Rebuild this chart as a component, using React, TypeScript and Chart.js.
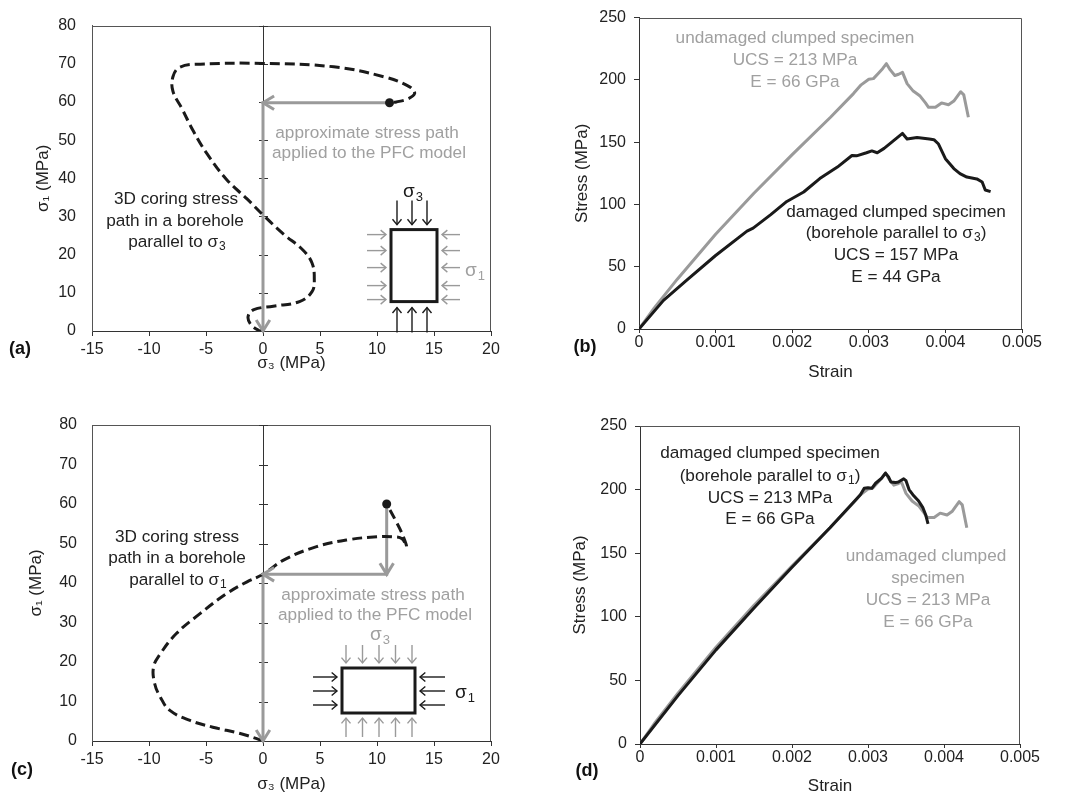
import React, { useEffect, useRef } from 'react';
import { Chart, registerables } from 'chart.js';

Chart.register(...registerables);

const FONT = 'Arial, "Liberation Sans", Helvetica, sans-serif';
const BLACK = '#1a1a1a';
const GRAY = '#9a9a9a';
const TEXT_GRAY = '#a0a0a0';
const TEXT = '#222222';
const AXIS = '#333333';
const BOX = '#555555';

// ---------- Panel (a): 3D coring stress path, borehole parallel to sigma3 ----------
const coringA_s3 = [0, -0.4, -1.1, -1.3, -0.8, 0.9, 3.2, 4.3, 4.5, 4.3, 3.5, 1.8, 0, -1.4, -3.2, -4.9, -6.1, -7.1, -7.9, -7.9, -7.3, -5.5, 0, 6.2, 10.6, 12.9, 13.3, 12.7, 11.7, 11.1];
const coringA_s1 = [0, 0.2, 1.8, 3.9, 5.6, 6.5, 7.7, 10.3, 13.6, 17.8, 21.2, 25.4, 30.4, 34.6, 39.7, 46.4, 52.3, 58.2, 62.8, 66.6, 69.1, 69.9, 70.1, 69.2, 66.6, 63.9, 62.2, 60.8, 60.0, 59.8];
const pfcA_s3 = [11.1, 0, 0];
const pfcA_s1 = [59.8, 59.8, 0];

// ---------- Panel (c): 3D coring stress path, borehole parallel to sigma1 ----------
const coringC_s3 = [0, -0.55, -2, -4.4, -6.4, -8.2, -9.0, -9.5, -9.6, -9.0, -7.6, -5.5, -3.2, -1.4, 0, 1.8, 4.7, 7.6, 10, 11.4, 12.2, 12.6, 12.2, 11.6, 10.85];
const coringC_s1 = [0, 0.6, 1.9, 3.5, 5.2, 7.8, 11.1, 14.5, 18.75, 22.1, 27.2, 32.3, 37.3, 40.3, 42.2, 45.8, 49.2, 51, 51.7, 51.7, 51.2, 49.2, 52.5, 56, 60];
const pfcC_s3 = [10.85, 10.85, 0, 0];
const pfcC_s1 = [60, 42.2, 42.2, 0];

// ---------- Panels (b), (d): stress-strain curves ----------
const undamagedStrain = [0, 0.0002, 0.0005, 0.001, 0.0015, 0.002, 0.0025, 0.0028, 0.0029, 0.003, 0.00306, 0.00312, 0.00318, 0.00323, 0.00328, 0.00334, 0.00339, 0.00344, 0.0035, 0.00358, 0.00367, 0.00374, 0.00378, 0.00387, 0.00395, 0.00404, 0.00411, 0.0042, 0.00424, 0.0043];
const undamagedStress = [0, 17, 40, 76, 109, 140, 170, 189, 196, 200.5, 201, 205, 209, 213, 208, 203.5, 204.5, 206, 197, 191, 187, 181.5, 178, 178, 181.5, 180, 183, 190.5, 188, 170];

const damagedS3Strain = [0, 0.00032, 0.00062, 0.001, 0.00141, 0.00149, 0.00172, 0.00193, 0.00215, 0.00236, 0.00259, 0.00278, 0.00284, 0.00297, 0.00304, 0.00311, 0.0032, 0.00332, 0.00344, 0.0035, 0.00363, 0.00379, 0.00385, 0.00391, 0.004, 0.00411, 0.00419, 0.00428, 0.00441, 0.00448, 0.00452, 0.00459];
const damagedS3Stress = [0, 23, 39, 59, 78.6, 81, 91.8, 102.4, 110, 120.8, 130, 139.3, 139, 141.5, 143, 141.5, 145, 151, 157, 152.5, 153.8, 152.5, 152, 148.5, 136.7, 128.8, 124.8, 122, 120.5, 118, 111.6, 110.3];

const damagedS1Strain = [0, 0.0005, 0.001, 0.0015, 0.002, 0.0025, 0.0029, 0.00295, 0.003, 0.00305, 0.0031, 0.00318, 0.00323, 0.00327, 0.0033, 0.00336, 0.0034, 0.00347, 0.0035, 0.00354, 0.00359, 0.00366, 0.00372, 0.00376, 0.00379];
const damagedS1Stress = [0, 38, 74, 107, 139, 170, 196, 201, 201.5, 201, 205, 209, 213, 210, 206, 205.5, 206, 208.5, 207, 200, 196, 191.5, 186, 180, 173];

// ---------- Ticks ----------
const sigma3Ticks = [-15, -10, -5, 0, 5, 10, 15, 20];
const sigma1Ticks = [0, 10, 20, 30, 40, 50, 60, 70, 80];
const strainTicks = [0, 0.001, 0.002, 0.003, 0.004, 0.005];
const strainTickLabels = ['0', '0.001', '0.002', '0.003', '0.004', '0.005'];
const stressTicks = [0, 50, 100, 150, 200, 250];

const zip = (xs: number[], ys: number[]) => xs.map((x, i) => ({ x, y: ys[i] }));

type Seg = string | { sub: string };
type Label = { x: number; y: number; segs: Seg[]; color: string; size?: number; bold?: boolean };

function drawRich(ctx: CanvasRenderingContext2D, l: Label) {
  const size = l.size ?? 17.2;
  const main = `${l.bold ? 'bold ' : ''}${size}px ${FONT}`;
  const sub = `${Math.round(size * 0.7)}px ${FONT}`;
  let total = 0;
  for (const s of l.segs) {
    ctx.font = typeof s === 'string' ? main : sub;
    total += ctx.measureText(typeof s === 'string' ? s : s.sub).width + (typeof s === 'string' ? 0 : 1);
  }
  let x = l.x - total / 2;
  ctx.fillStyle = l.color;
  ctx.textAlign = 'left';
  ctx.textBaseline = 'middle';
  for (const s of l.segs) {
    if (typeof s === 'string') {
      ctx.font = main;
      ctx.fillText(s, x, l.y);
      x += ctx.measureText(s).width;
    } else {
      ctx.font = sub;
      ctx.fillText(s.sub, x + 1, l.y + size * 0.3);
      x += ctx.measureText(s.sub).width + 1;
    }
  }
}

function chevron(ctx: CanvasRenderingContext2D, x: number, y: number, a: number, len: number, spread: number) {
  ctx.beginPath();
  ctx.moveTo(x - len * Math.cos(a - spread), y - len * Math.sin(a - spread));
  ctx.lineTo(x, y);
  ctx.lineTo(x - len * Math.cos(a + spread), y - len * Math.sin(a + spread));
  ctx.stroke();
}

function arrow(ctx: CanvasRenderingContext2D, x1: number, y1: number, x2: number, y2: number, color: string) {
  const a = Math.atan2(y2 - y1, x2 - x1);
  ctx.strokeStyle = color;
  ctx.lineWidth = 1.4;
  ctx.lineCap = 'butt';
  ctx.lineJoin = 'miter';
  ctx.beginPath();
  ctx.moveTo(x1, y1);
  ctx.lineTo(x2, y2);
  ctx.stroke();
  chevron(ctx, x2, y2, a, 7, 0.7);
}

type Area = { left: number; top: number; right: number; bottom: number };

function insetA(ctx: CanvasRenderingContext2D, ca: Area) {
  const L = ca.left + 299, T = ca.top + 204, W = 46, H = 72;
  for (const dx of [6, 21, 36]) {
    arrow(ctx, L + dx, T - 29, L + dx, T - 5, BLACK);
    arrow(ctx, L + dx, T + H + 31, L + dx, T + H + 6, BLACK);
  }
  for (const dy of [5, 21, 38, 56, 70]) {
    arrow(ctx, L - 24, T + dy, L - 5, T + dy, GRAY);
    arrow(ctx, L + W + 23, T + dy, L + W + 5, T + dy, GRAY);
  }
  ctx.strokeStyle = BLACK;
  ctx.lineWidth = 3;
  ctx.strokeRect(L, T, W, H);
  drawRich(ctx, { x: L + 22, y: T - 38, segs: ['σ', { sub: '3' }], color: BLACK, size: 19 });
  drawRich(ctx, { x: L + W + 38, y: T + 41, segs: ['σ', { sub: '1' }], color: TEXT_GRAY, size: 19 });
}

function insetC(ctx: CanvasRenderingContext2D, ca: Area) {
  const L = ca.left + 250, T = ca.top + 243, W = 73, H = 45;
  for (const dx of [4, 20.5, 37, 53.5, 70]) {
    arrow(ctx, L + dx, T - 23, L + dx, T - 5, GRAY);
    arrow(ctx, L + dx, T + H + 24, L + dx, T + H + 5, GRAY);
  }
  for (const dy of [9, 23, 37]) {
    arrow(ctx, L - 29, T + dy, L - 5, T + dy, BLACK);
    arrow(ctx, L + W + 30, T + dy, L + W + 5, T + dy, BLACK);
  }
  ctx.strokeStyle = BLACK;
  ctx.lineWidth = 3;
  ctx.strokeRect(L, T, W, H);
  drawRich(ctx, { x: L + 38, y: T - 33, segs: ['σ', { sub: '3' }], color: TEXT_GRAY, size: 19 });
  drawRich(ctx, { x: L + W + 50, y: T + 25, segs: ['σ', { sub: '1' }], color: BLACK, size: 19 });
}

interface Decor {
  centerAxis: boolean;
  path?: { xs: number[]; ys: number[] };
  inset?: (ctx: CanvasRenderingContext2D, ca: Area) => void;
  labels: Label[];
}

function makeDecor(d: Decor) {
  return {
    id: 'decor',
    beforeDatasetsDraw(chart: any) {
      const { ctx, chartArea: ca, scales } = chart;
      ctx.save();
      ctx.strokeStyle = BOX;
      ctx.lineWidth = 1;
      ctx.beginPath();
      const t = Math.round(ca.top) + 0.5;
      const r = Math.round(ca.right) - 0.5;
      ctx.moveTo(ca.left, t);
      ctx.lineTo(r, t);
      ctx.lineTo(r, ca.bottom);
      ctx.stroke();
      if (d.centerAxis) {
        const x0 = Math.round(scales.x.getPixelForValue(0)) + 0.5;
        ctx.strokeStyle = AXIS;
        ctx.beginPath();
        ctx.moveTo(x0, ca.top);
        ctx.lineTo(x0, ca.bottom);
        for (const v of sigma1Ticks) {
          const y = Math.round(scales.y.getPixelForValue(v)) + 0.5;
          ctx.moveTo(x0 - 4.5, y);
          ctx.lineTo(x0 + 4.5, y);
        }
        ctx.stroke();
      }
      ctx.restore();
    },
    afterDatasetsDraw(chart: any) {
      const { ctx, chartArea: ca, scales } = chart;
      ctx.save();
      if (d.path) {
        const { xs, ys } = d.path;
        ctx.strokeStyle = GRAY;
        ctx.lineWidth = 3;
        ctx.lineJoin = 'miter';
        ctx.lineCap = 'butt';
        for (let i = 1; i < xs.length; i++) {
          const px = scales.x.getPixelForValue(xs[i]);
          const py = scales.y.getPixelForValue(ys[i]);
          const qx = scales.x.getPixelForValue(xs[i - 1]);
          const qy = scales.y.getPixelForValue(ys[i - 1]);
          chevron(ctx, px, py, Math.atan2(py - qy, px - qx), 13, 0.55);
        }
      }
      if (d.inset) d.inset(ctx, ca);
      for (const l of d.labels) drawRich(ctx, l);
      ctx.restore();
    },
  };
}

const tickFont = { family: FONT, size: 16 };
const titleFont = { family: FONT, size: 17 };

interface PathParams {
  coringX: number[]; coringY: number[]; pfcX: number[]; pfcY: number[];
  top: number; right: number; xHeight: number; xTickPad: number; xTitlePad: number;
  yWidth: number; yTickPad: number; yTitlePad: number;
  labels: Label[]; inset: (ctx: CanvasRenderingContext2D, ca: Area) => void;
}

function stressPathConfig(p: PathParams): any {
  return {
    type: 'scatter',
    data: {
      datasets: [
        {
          data: [{ x: p.pfcX[0], y: p.pfcY[0] }], showLine: false, pointRadius: 4.5,
          pointBackgroundColor: BLACK, pointBorderColor: BLACK, pointBorderWidth: 0, order: 0,
        },
        {
          data: zip(p.coringX, p.coringY), showLine: true, borderColor: BLACK, borderWidth: 3,
          borderDash: [10, 5], tension: 0.4, pointRadius: 0, order: 1,
        },
        {
          data: zip(p.pfcX, p.pfcY), showLine: true, borderColor: GRAY, borderWidth: 3,
          tension: 0, pointRadius: 0, order: 2, borderJoinStyle: 'miter',
        },
      ],
    },
    options: {
      animation: false, responsive: false, events: [],
      layout: { padding: { top: p.top, right: p.right, left: 0, bottom: 0 } },
      plugins: { legend: { display: false }, tooltip: { enabled: false } },
      scales: {
        x: {
          type: 'linear', min: -15, max: 20,
          afterBuildTicks: (s: any) => { s.ticks = sigma3Ticks.map((v) => ({ value: v })); },
          ticks: { font: tickFont, color: TEXT, padding: p.xTickPad, maxRotation: 0, autoSkip: false, callback: (v: any) => String(v) },
          grid: { display: true, drawOnChartArea: false, drawTicks: true, tickLength: 5, color: AXIS },
          border: { display: true, color: AXIS, width: 1 },
          title: { display: true, text: 'σ₃ (MPa)', font: titleFont, color: TEXT, padding: { top: 0, bottom: p.xTitlePad } },
          afterFit: (s: any) => { s.height = p.xHeight; },
        },
        y: {
          type: 'linear', min: 0, max: 80,
          afterBuildTicks: (s: any) => { s.ticks = sigma1Ticks.map((v) => ({ value: v })); },
          ticks: { font: tickFont, color: TEXT, padding: p.yTickPad, autoSkip: false, callback: (v: any) => String(v) },
          grid: { display: false, drawTicks: false },
          border: { display: true, color: BOX, width: 1 },
          title: { display: true, text: 'σ₁ (MPa)', font: titleFont, color: TEXT, padding: { top: p.yTitlePad, bottom: 0 } },
          afterFit: (s: any) => { s.width = p.yWidth; },
        },
      },
    },
    plugins: [makeDecor({ centerAxis: true, path: { xs: p.pfcX, ys: p.pfcY }, inset: p.inset, labels: p.labels })],
  };
}

interface CurveParams {
  blackX: number[]; blackY: number[]; grayX: number[]; grayY: number[];
  top: number; right: number; xHeight: number; xTickPad: number; xTitlePad: number;
  yWidth: number; yTickPad: number; yTitlePad: number; labels: Label[];
}

function stressStrainConfig(p: CurveParams): any {
  return {
    type: 'scatter',
    data: {
      datasets: [
        {
          data: zip(p.blackX, p.blackY), showLine: true, borderColor: BLACK, borderWidth: 3,
          tension: 0, pointRadius: 0, order: 0, borderJoinStyle: 'round',
        },
        {
          data: zip(p.grayX, p.grayY), showLine: true, borderColor: GRAY, borderWidth: 3,
          tension: 0, pointRadius: 0, order: 1, borderJoinStyle: 'round',
        },
      ],
    },
    options: {
      animation: false, responsive: false, events: [],
      layout: { padding: { top: p.top, right: p.right, left: 0, bottom: 0 } },
      plugins: { legend: { display: false }, tooltip: { enabled: false } },
      scales: {
        x: {
          type: 'linear', min: 0, max: 0.005,
          afterBuildTicks: (s: any) => { s.ticks = strainTicks.map((v) => ({ value: v })); },
          ticks: { font: tickFont, color: TEXT, padding: p.xTickPad, maxRotation: 0, autoSkip: false, callback: (_v: any, i: number) => strainTickLabels[i] },
          grid: { display: true, drawOnChartArea: false, drawTicks: true, tickLength: 4, color: AXIS },
          border: { display: true, color: AXIS, width: 1 },
          title: { display: true, text: 'Strain', font: titleFont, color: TEXT, padding: { top: 0, bottom: p.xTitlePad } },
          afterFit: (s: any) => { s.height = p.xHeight; },
        },
        y: {
          type: 'linear', min: 0, max: 250,
          afterBuildTicks: (s: any) => { s.ticks = stressTicks.map((v) => ({ value: v })); },
          ticks: { font: tickFont, color: TEXT, padding: p.yTickPad, autoSkip: false, callback: (v: any) => String(v) },
          grid: { display: true, drawOnChartArea: false, drawTicks: true, tickLength: 5, color: AXIS },
          border: { display: true, color: AXIS, width: 1 },
          title: { display: true, text: 'Stress (MPa)', font: titleFont, color: TEXT, padding: { top: p.yTitlePad, bottom: 0 } },
          afterFit: (s: any) => { s.width = p.yWidth; },
        },
      },
    },
    plugins: [makeDecor({ centerAxis: false, labels: p.labels })],
  };
}

const labelsA: Label[] = [
  { x: 367, y: 133, segs: ['approximate stress path'], color: TEXT_GRAY },
  { x: 369, y: 153, segs: ['applied to the PFC model'], color: TEXT_GRAY },
  { x: 176, y: 199, segs: ['3D coring stress'], color: TEXT },
  { x: 175, y: 221, segs: ['path in a borehole'], color: TEXT },
  { x: 177, y: 242, segs: ['parallel to σ', { sub: '3' }], color: TEXT },
  { x: 20, y: 349, segs: ['(a)'], color: '#111', bold: true, size: 18 },
];
const labelsB: Label[] = [
  { x: 275, y: 38, segs: ['undamaged clumped specimen'], color: TEXT_GRAY },
  { x: 275, y: 60, segs: ['UCS = 213 MPa'], color: TEXT_GRAY },
  { x: 275, y: 82, segs: ['E = 66 GPa'], color: TEXT_GRAY },
  { x: 376, y: 212, segs: ['damaged clumped specimen'], color: TEXT },
  { x: 376, y: 233, segs: ['(borehole parallel to σ', { sub: '3' }, ')'], color: TEXT },
  { x: 376, y: 255, segs: ['UCS = 157 MPa'], color: TEXT },
  { x: 376, y: 277, segs: ['E = 44 GPa'], color: TEXT },
  { x: 65, y: 347, segs: ['(b)'], color: '#111', bold: true, size: 18 },
];
const labelsC: Label[] = [
  { x: 177, y: 137, segs: ['3D coring stress'], color: TEXT },
  { x: 177, y: 158, segs: ['path in a borehole'], color: TEXT },
  { x: 178, y: 180, segs: ['parallel to σ', { sub: '1' }], color: TEXT },
  { x: 373, y: 195, segs: ['approximate stress path'], color: TEXT_GRAY },
  { x: 375, y: 215, segs: ['applied to the PFC model'], color: TEXT_GRAY },
  { x: 22, y: 370, segs: ['(c)'], color: '#111', bold: true, size: 18 },
];
const labelsD: Label[] = [
  { x: 250, y: 53, segs: ['damaged clumped specimen'], color: TEXT },
  { x: 250, y: 76, segs: ['(borehole parallel to σ', { sub: '1' }, ')'], color: TEXT },
  { x: 250, y: 98, segs: ['UCS = 213 MPa'], color: TEXT },
  { x: 250, y: 119, segs: ['E = 66 GPa'], color: TEXT },
  { x: 406, y: 156, segs: ['undamaged clumped'], color: TEXT_GRAY },
  { x: 408, y: 178, segs: ['specimen'], color: TEXT_GRAY },
  { x: 408, y: 200, segs: ['UCS = 213 MPa'], color: TEXT_GRAY },
  { x: 408, y: 222, segs: ['E = 66 GPa'], color: TEXT_GRAY },
  { x: 67, y: 371, segs: ['(d)'], color: '#111', bold: true, size: 18 },
];

function Panel(props: { left: number; top: number; width: number; height: number; build: () => any }) {
  const ref = useRef<HTMLCanvasElement>(null);
  useEffect(() => {
    const chart = new Chart(ref.current as HTMLCanvasElement, props.build());
    return () => chart.destroy();
  }, []);
  return (
    <canvas
      ref={ref}
      width={props.width}
      height={props.height}
      style={{ position: 'absolute', left: props.left, top: props.top, width: props.width, height: props.height }}
    />
  );
}

export default function App() {
  return (
    <div style={{ position: 'absolute', left: 0, top: 0, width: 1066, height: 797, background: '#fff', overflow: 'hidden' }}>
      <Panel left={0} top={0} width={520} height={395} build={() => stressPathConfig({
        coringX: coringA_s3, coringY: coringA_s1, pfcX: pfcA_s3, pfcY: pfcA_s1,
        top: 13, right: 29, xHeight: 64, xTickPad: 4, xTitlePad: 21,
        yWidth: 92, yTickPad: 16, yTitlePad: 33, labels: labelsA, inset: insetA,
      })} />
      <Panel left={520} top={0} width={546} height={395} build={() => stressStrainConfig({
        blackX: damagedS3Strain, blackY: damagedS3Stress, grayX: undamagedStrain, grayY: undamagedStress,
        top: 13, right: 44, xHeight: 66, xTickPad: 0, xTitlePad: 12,
        yWidth: 119, yTickPad: 8, yTitlePad: 52, labels: labelsB,
      })} />
      <Panel left={0} top={400} width={520} height={397} build={() => stressPathConfig({
        coringX: coringC_s3, coringY: coringC_s1, pfcX: pfcC_s3, pfcY: pfcC_s1,
        top: 25, right: 29, xHeight: 56, xTickPad: 4, xTitlePad: 2,
        yWidth: 92, yTickPad: 15, yTitlePad: 26, labels: labelsC, inset: insetC,
      })} />
      <Panel left={520} top={400} width={546} height={397} build={() => stressStrainConfig({
        blackX: damagedS1Strain, blackY: damagedS1Stress, grayX: undamagedStrain, grayY: undamagedStress,
        top: 26, right: 46, xHeight: 53, xTickPad: 0, xTitlePad: 0,
        yWidth: 120, yTickPad: 8, yTitlePad: 50, labels: labelsD,
      })} />
    </div>
  );
}
